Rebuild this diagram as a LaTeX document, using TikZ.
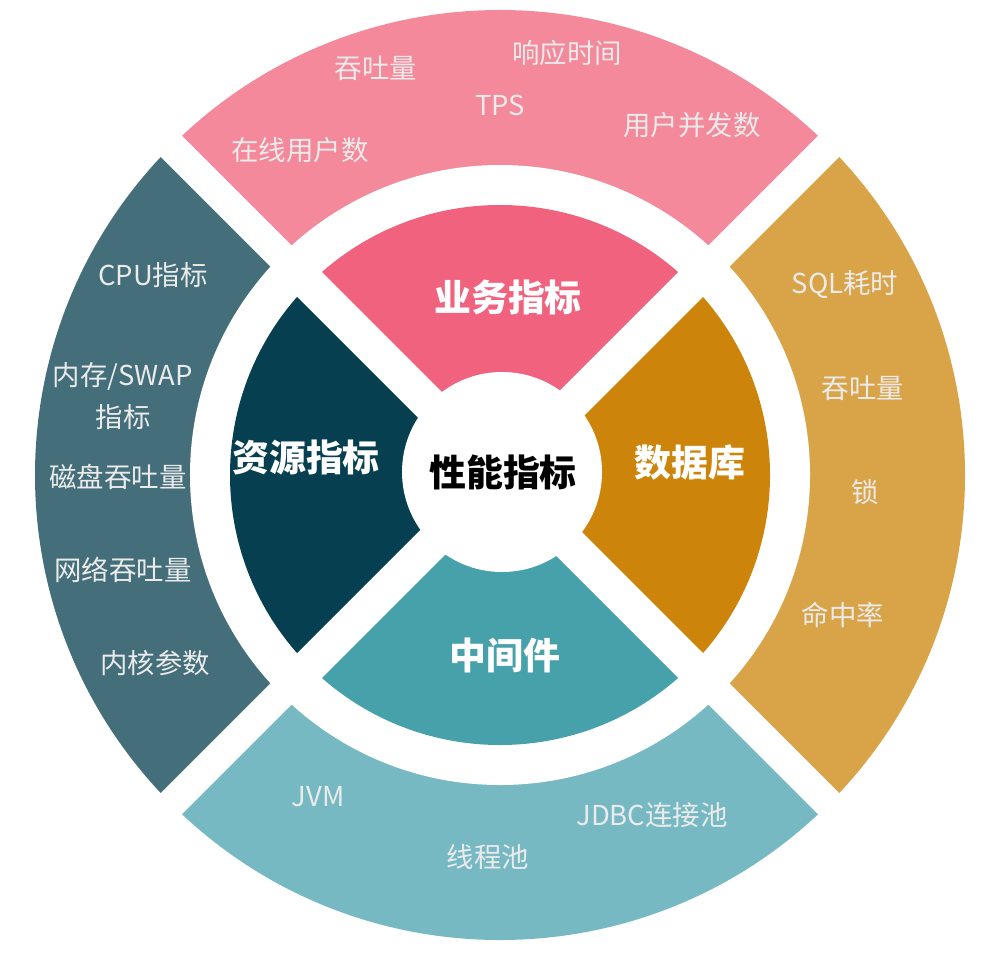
\documentclass[tikz,border=0pt]{standalone}
\usepackage{fontspec}
\setmainfont{Noto Sans CJK SC}
\usetikzlibrary{positioning}
\definecolor{pinkout}{HTML}{F4899B}
\definecolor{pinkin}{HTML}{F0627D}
\definecolor{tealout}{HTML}{436E7A}
\definecolor{tealin}{HTML}{053F50}
\definecolor{goldout}{HTML}{D9A448}
\definecolor{goldin}{HTML}{CC850A}
\definecolor{cyanout}{HTML}{77B9C3}
\definecolor{cyanin}{HTML}{47A1AB}
\tikzset{
  outlabel/.style={text=white!92!black,font=\fontsize{7.8}{9}\selectfont,align=center,inner sep=0pt},
  inlabel/.style={text=white,font=\fontsize{10.5}{12}\selectfont\bfseries,inner sep=0pt},
  gap/.style={white,line width=0.3cm}
}
\begin{document}
\begin{tikzpicture}
\useasboundingbox (0,0) rectangle (10,-9.76);
\coordinate (C) at (5,-4.75);
% outer ring
\fill[pinkout] (C) -- ++(45:4.65) arc[start angle=45,end angle=135,radius=4.65cm] -- cycle;
\fill[tealout] (C) -- ++(135:4.65) arc[start angle=135,end angle=225,radius=4.65cm] -- cycle;
\fill[cyanout] (C) -- ++(225:4.65) arc[start angle=225,end angle=315,radius=4.65cm] -- cycle;
\fill[goldout] (C) -- ++(315:4.65) arc[start angle=315,end angle=405,radius=4.65cm] -- cycle;
\fill[white] (C) circle (3.1);
% inner ring
\fill[pinkin] (C) -- ++(45:2.7) arc[start angle=45,end angle=135,radius=2.7cm] -- cycle;
\fill[tealin] (C) -- ++(135:2.7) arc[start angle=135,end angle=225,radius=2.7cm] -- cycle;
\fill[cyanin] (C) -- ++(225:2.7) arc[start angle=225,end angle=315,radius=2.7cm] -- cycle;
\fill[goldin] (C) -- ++(315:2.7) arc[start angle=315,end angle=405,radius=2.7cm] -- cycle;
\draw[gap] (C) -- ++(45:5) (C) -- ++(135:5) (C) -- ++(225:5) (C) -- ++(315:5);
\draw[gap,line width=0.35cm] (C) -- ++(45:2.8) (C) -- ++(135:2.8) (C) -- ++(225:2.8) (C) -- ++(315:2.8);
\fill[white] (5.02,-4.72) circle (1.0);
% labels
\node[font=\fontsize{10.5}{12}\selectfont\bfseries] (perf) at (5.03,-4.72) {性能指标};
\node[inlabel] (biz) at (5.08,-2.97) {业务指标};
\node[inlabel] (res) at (3.06,-4.58) {资源指标};
\node[inlabel] (db) at (6.90,-4.62) {数据库};
\node[inlabel] (mid) at (5.05,-6.55) {中间件};
\node[outlabel] (b1) at (3.76,-0.68) {吞吐量};
\node[outlabel] (b2) at (5.67,-0.53) {响应时间};
\node[outlabel] (b3) at (5.00,-1.05) {TPS};
\node[outlabel] (b4) at (3.00,-1.50) {在线用户数};
\node[outlabel] (b5) at (6.92,-1.25) {用户并发数};
\node[outlabel] (r1) at (1.53,-2.75) {CPU指标};
\node[outlabel] (r2) at (1.23,-3.96) {内存/SWAP\\[3pt]指标};
\node[outlabel] (r3) at (1.18,-4.77) {磁盘吞吐量};
\node[outlabel] (r4) at (1.23,-5.70) {网络吞吐量};
\node[outlabel] (r5) at (1.55,-6.63) {内核参数};
\node[outlabel] (d1) at (8.45,-2.85) {SQL耗时};
\node[outlabel] (d2) at (8.63,-3.88) {吞吐量};
\node[outlabel] (d3) at (8.65,-4.92) {锁};
\node[outlabel] (d4) at (8.43,-6.15) {命中率};
\node[outlabel] (m1) at (3.18,-7.97) {JVM};
\node[outlabel] (m2) at (4.88,-8.57) {线程池};
\node[outlabel] (m3) at (6.52,-8.15) {JDBC连接池};
\end{tikzpicture}
\end{document}
